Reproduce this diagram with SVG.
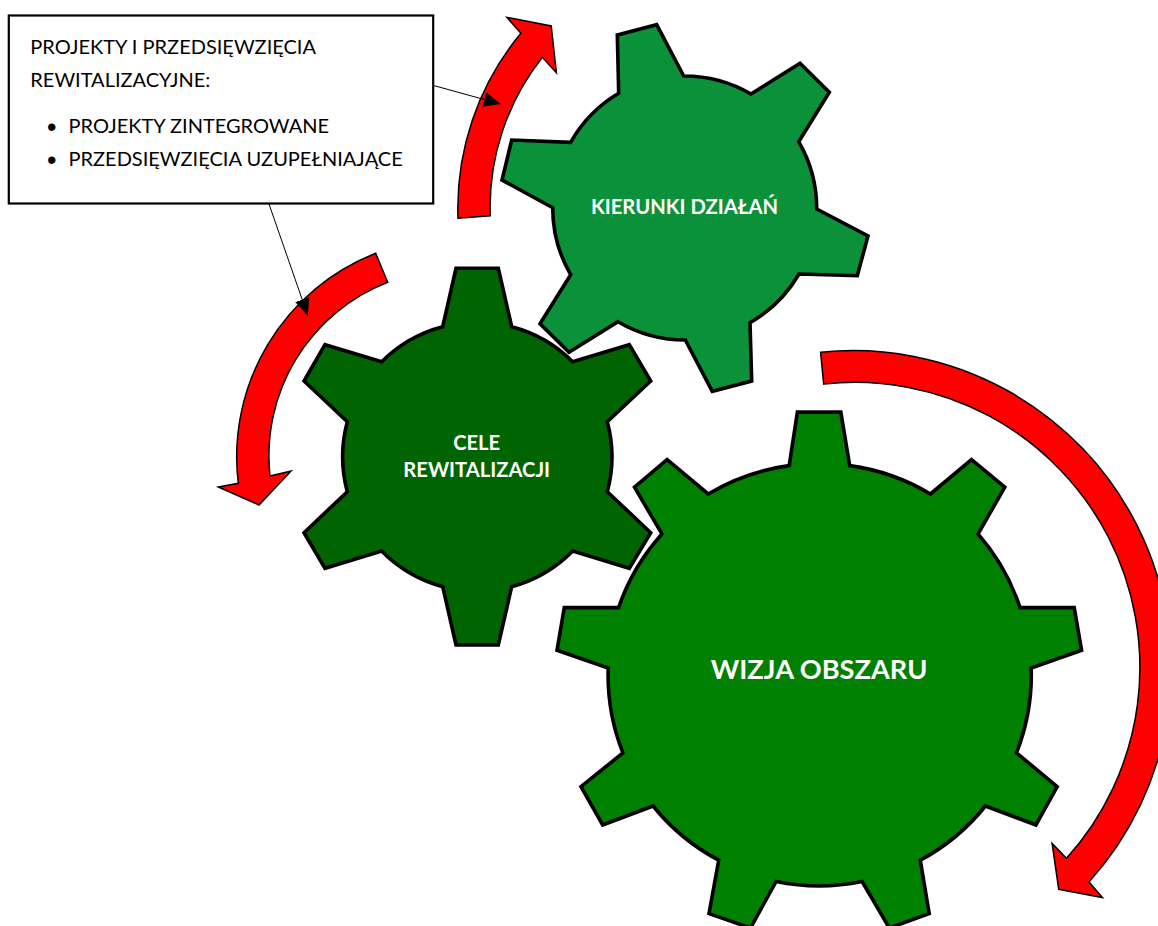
<svg xmlns="http://www.w3.org/2000/svg" width="1158" height="926" viewBox="0 0 1158 926">
<style>
.gear{stroke:#000;stroke-width:3.6;stroke-linejoin:miter}
.flow{fill:#f00;stroke:#000;stroke-width:1.5;stroke-linejoin:miter}
.lead{fill:none;stroke:#000;stroke-width:1}
.label{font-family:"Lato","Liberation Sans",sans-serif;font-weight:700;fill:#fff}
.body{font-family:"Lato","Liberation Sans",sans-serif;font-size:20px;fill:#000}
.bullet{font-family:"Liberation Sans",sans-serif;font-size:27px;fill:#000}
</style>
<defs>
<marker id="tip" markerUnits="userSpaceOnUse" markerWidth="18" markerHeight="16" refX="17" refY="7.5" orient="auto"><path d="M0,0L17,7.5L0,15Z" fill="#000"/></marker>
</defs>
<rect width="1158" height="926" fill="#fff"/>
<g id="arrows">
<path class="flow" d="M458,218.3A274,274 0 0 1 520.9,33.3L506.9,17.3L551.2,26L556.4,72.7L542.4,57.3A242,242 0 0 0 490.2,215.7Z"/>
<path class="flow" d="M375.7,253.3A218.5,218.5 0 0 0 238.3,483.3L218.3,487L259,505L291,471L270,476A186,186 0 0 1 387.7,282.3Z"/>
<path class="flow" d="M820.6,352.3A318,318 0 0 1 1089,881.9L1102.5,897.5L1058.7,889.3L1052.1,843.4L1066.5,858.3A285,285 0 0 0 823.7,384.1Z"/>
</g>
<g id="kierunki">
<path class="gear" fill="#0c913b" d="M617.3,35L656.7,24.7L683.7,76A133,133 0 0 1 751,94L800,63.3L829.3,92.3L798.7,141.7A133,133 0 0 1 816.7,209L868,236L857.3,275.7L799,274A133,133 0 0 1 750,322.7L751.7,381L712.3,391.3L685.3,340A133,133 0 0 1 618,321.7L569,352.3L540,323.7L570.7,274.7A133,133 0 0 1 552.7,207.7L502,180L511.7,140L570.7,142.3A133,133 0 0 1 618.7,93.3Z"/>
<text class="label" font-size="20.2" x="684.5" y="214.3" text-anchor="middle">KIERUNKI DZIAŁAŃ</text>
</g>
<g id="cele">
<path class="gear" fill="#006400" d="M456,268.3L498.3,268.3L511.7,326.7A134.7,134.7 0 0 1 572.7,361.7L629.3,344.7L650.7,381L607.3,421.7A134.7,134.7 0 0 1 607.3,491.7L650.7,532.7L629.3,568.3L572.7,551A134.7,134.7 0 0 1 511.7,586.7L498.3,645L456,645L442.7,586.7A134.7,134.7 0 0 1 381.7,551L325,568.3L304,532.7L347.3,491.7A134.7,134.7 0 0 1 347.3,421.7L304,381L325,344.7L381.7,361.7A134.7,134.7 0 0 1 442.7,326.7Z"/>
<text class="label" font-size="20.2" x="476.7" y="449.8" text-anchor="middle">CELE</text>
<text class="label" font-size="20.2" x="476.7" y="477.2" text-anchor="middle">REWITALIZACJI</text>
</g>
<g id="wizja">
<path class="gear" fill="#008000" d="M797.4,412.1L840.8,412.1L849.7,465.6A212,212 0 0 1 930.4,494L971.5,459.6L1004.8,487.2L978,534A212,212 0 0 1 1020,607.6L1074.2,607.6L1081.6,650.2L1031.2,668.1A212,212 0 0 1 1016.5,752.9L1057.2,786.6L1035.9,825L985.4,806A212,212 0 0 1 920.3,860.2L929.2,913.6L889.3,928L862.1,881.5A212,212 0 0 1 776.1,881.5L750.5,928L709,913.6L718.7,860.2A212,212 0 0 1 653.1,806L602.7,825L581,786.6L622.9,752.9A212,212 0 0 1 608.2,668.1L557,650.2L564.3,607.6L618.6,607.6A212,212 0 0 1 662,534L634.5,487.2L667.1,459.6L708.2,494A212,212 0 0 1 789.2,465.6Z"/>
<text class="label" font-size="27.2" x="819" y="678.5" text-anchor="middle">WIZJA OBSZARU</text>
</g>
<g id="projekty">
<rect x="8.8" y="15.5" width="424.4" height="188" fill="#fff" stroke="#000" stroke-width="2.2"/>
<text class="body" x="30.3" y="53.8">PROJEKTY I PRZEDSIĘWZIĘCIA</text>
<text class="body" x="30.3" y="86.5">REWITALIZACYJNE:</text>
<text class="bullet" x="47" y="135.5">•</text>
<text class="body" x="68.5" y="132.9">PROJEKTY ZINTEGROWANE</text>
<text class="bullet" x="47" y="169">•</text>
<text class="body" x="68.5" y="166.2">PRZEDSIĘWZIĘCIA UZUPEŁNIAJĄCE</text>
</g>
<g id="connectors">
<line class="lead" x1="433.6" y1="85.5" x2="500.6" y2="104" marker-end="url(#tip)"/>
<line class="lead" x1="269" y1="204" x2="307.8" y2="315.7" marker-end="url(#tip)"/>
</g>
</svg>
